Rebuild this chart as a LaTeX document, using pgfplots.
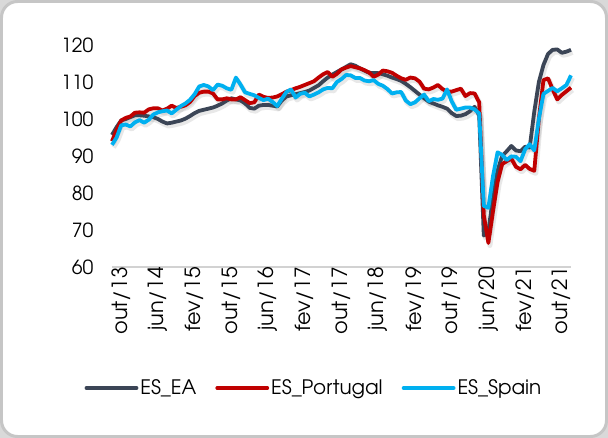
\documentclass[border=0pt]{standalone}
\usepackage{fontspec}
\setmainfont{TeX Gyre Adventor}
\usepackage{pgfplots}
\usepackage{pgfplotstable}
\pgfplotsset{compat=1.18}
\definecolor{cEA}{HTML}{3B4556}
\definecolor{cPT}{HTML}{C00000}
\definecolor{cES}{HTML}{00B0F0}
\pgfplotstableread{
i ea pt es
0 95.7 94.0 93.0
1 97.8 97.0 95.0
2 99.6 99.6 98.3
3 100.0 100.3 98.5
4 100.5 100.7 98.0
5 101.0 101.7 99.1
6 101.0 101.8 99.7
7 100.9 101.7 99.0
8 100.7 102.6 99.8
9 100.5 102.9 101.2
10 100.0 102.9 101.8
11 99.3 102.3 102.1
12 98.8 102.8 102.3
13 99.0 103.6 101.5
14 99.3 103.0 102.5
15 99.6 103.3 103.5
16 100.1 103.7 104.2
17 100.8 104.6 105.2
18 101.6 106.2 106.7
19 102.2 107.1 108.8
20 102.5 107.4 109.2
21 102.8 107.4 108.8
22 103.1 106.9 107.8
23 103.6 105.3 109.3
24 104.2 105.3 109.0
25 105.0 105.6 108.3
26 105.6 105.3 107.9
27 105.3 105.3 111.2
28 105.0 105.9 109.3
29 104.2 105.1 107.2
30 103.0 104.3 106.8
31 102.8 104.5 106.4
32 103.6 106.6 105.7
33 103.8 106.0 105.1
34 103.8 105.7 105.5
35 103.6 105.8 104.6
36 103.4 106.1 103.5
37 105.0 106.7 105.5
38 106.1 107.4 107.3
39 106.4 107.8 108.0
40 106.7 108.3 105.8
41 107.0 108.7 106.8
42 107.3 109.2 107.1
43 107.7 109.7 106.1
44 108.4 110.2 106.6
45 109.1 111.2 107.2
46 110.2 112.1 108.0
47 111.2 112.7 108.4
48 112.0 111.4 108.3
49 112.7 112.2 110.0
50 113.4 113.4 110.8
51 114.1 113.9 111.9
52 114.8 114.3 111.8
53 114.4 114.0 111.1
54 113.7 113.7 111.1
55 113.1 113.2 110.4
56 112.5 112.6 110.2
57 112.4 111.4 110.5
58 112.4 112.0 109.5
59 112.1 113.1 109.0
60 111.7 112.9 108.1
61 111.2 112.5 106.9
62 110.8 111.7 107.2
63 110.3 111.0 107.3
64 109.5 110.6 105.0
65 108.6 111.2 104.0
66 107.6 111.0 104.5
67 106.6 110.1 105.6
68 105.6 108.2 106.6
69 104.7 108.0 104.8
70 104.2 108.5 105.4
71 103.7 109.2 105.2
72 103.3 108.1 105.5
73 102.8 107.4 108.0
74 101.6 107.4 104.8
75 100.8 107.8 102.5
76 100.9 108.2 102.8
77 101.3 106.2 103.1
78 102.1 107.0 103.1
79 103.3 106.9 102.6
80 101.0 104.5 101.5
81 68.5 74.0 76.5
82 69.5 66.5 76.0
83 79.0 75.0 84.5
84 86.0 83.0 91.0
85 90.0 87.8 90.3
86 91.3 88.6 88.9
87 92.7 89.3 89.9
88 91.5 87.1 89.8
89 91.3 86.4 88.6
90 92.5 87.6 91.8
91 92.3 86.5 93.2
92 102.0 86.0 91.5
93 110.0 100.0 100.0
94 114.6 110.5 106.8
95 117.6 111.0 107.6
96 118.7 108.0 108.4
97 118.8 105.3 107.5
98 117.9 106.5 108.3
99 118.2 107.5 109.2
100 118.7 108.5 111.8
}\datatable
\begin{document}
\begin{tikzpicture}
\fill[gray!30] (-112bp,-171bp) rectangle (496bp,267bp);
\draw[fill=white, draw=gray!45, line width=3bp, rounded corners=16bp] (-110.5bp,-169.5bp) rectangle (494.5bp,265.5bp);
\useasboundingbox (-112bp,-171bp) rectangle (496bp,267bp);
\begin{axis}[
  at={(0,0)}, anchor=south west,
  scale only axis, width=459bp, height=222bp,
  xmin=0, xmax=100, ymin=60, ymax=120,
  axis x line*=bottom, axis y line*=left,
  x axis line style={draw=gray!35, line width=1.5bp, -},
  y axis line style={draw=none},
  major tick length=0pt,
  ytick={60,70,...,120},
  xtick={0,8,...,96},
  xticklabels={out/13,jun/14,fev/15,out/15,jun/16,fev/17,out/17,jun/18,fev/19,out/19,jun/20,fev/21,out/21},
  /pgf/number format/assume math mode=true,
  ticklabel style={text=black},
  y tick label style={font=\fontsize{19.5}{19.5}\selectfont, anchor=east, inner sep=0pt, xshift=-18.5bp},
  x tick label style={font=\fontsize{21}{21}\selectfont, rotate=90, anchor=east, inner sep=0pt, yshift=-9bp, xshift=0bp},
  clip=false,
  legend columns=3,
  legend style={at={(0.44,-0.545)}, anchor=center, draw=none, fill=none,
    font=\fontsize{20}{20}\selectfont, inner sep=0pt,
    /tikz/every even column/.append style={column sep=17bp}},
  legend image code/.code={\draw[#1, line cap=round] (0bp,0bp) -- (50bp,0bp);},
  every axis plot/.append style={line join=round},
]
\addplot[gray, opacity=0.18, line width=5bp, forget plot, xshift=1.5bp, yshift=-2.5bp] table[x=i,y=ea] {\datatable};
\addplot[gray, opacity=0.18, line width=5bp, forget plot, xshift=1.5bp, yshift=-2.5bp] table[x=i,y=pt] {\datatable};
\addplot[gray, opacity=0.18, line width=5bp, forget plot, xshift=1.5bp, yshift=-2.5bp] table[x=i,y=es] {\datatable};
\addplot[cEA, line width=3.8bp] table[x=i,y=ea] {\datatable};
\addlegendentry{ES\_EA}
\addplot[cPT, line width=3.8bp] table[x=i,y=pt] {\datatable};
\addlegendentry{ES\_Portugal}
\addplot[cES, line width=3.8bp] table[x=i,y=es] {\datatable};
\addlegendentry{ES\_Spain}
\end{axis}
\end{tikzpicture}
\end{document}
